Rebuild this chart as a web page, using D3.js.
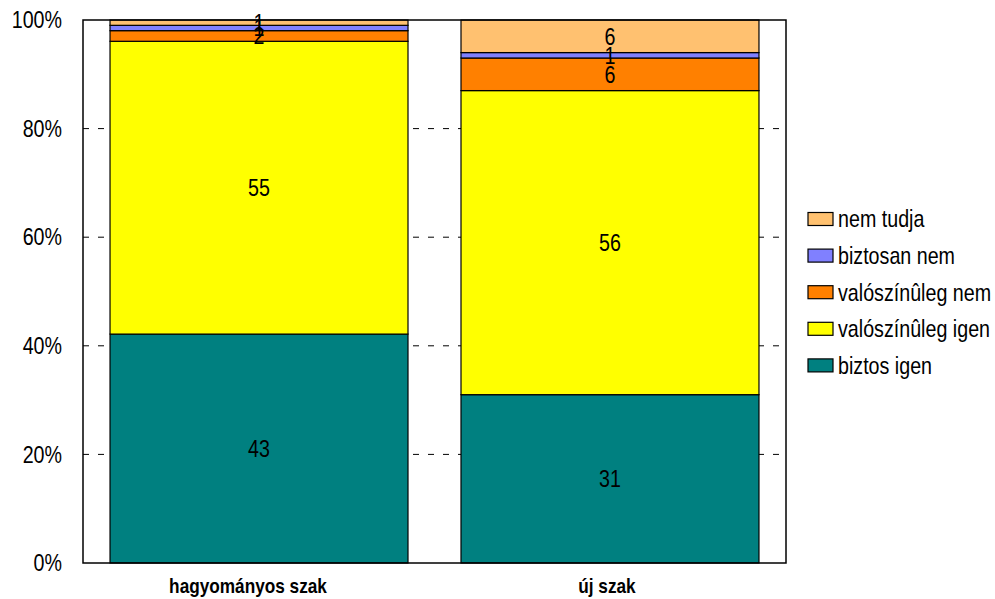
<!DOCTYPE html>
<html><head><meta charset="utf-8">
<script src="https://cdn.jsdelivr.net/npm/d3@7"></script>
<style>body{margin:0;background:#fff}svg{display:block}text{font-family:"Liberation Sans",Arial,sans-serif}</style>
</head><body>
<svg id="c" width="995" height="599"></svg>
<script>
const categories = ["hagyományos szak", "új szak"];
const seriesNames = ["biztos igen", "valószínûleg igen", "valószínûleg nem", "biztosan nem", "nem tudja"];
const biztosIgen = [43, 31];
const valoszinulegIgen = [55, 56];
const valoszinulegNem = [2, 6];
const biztosanNem = [1, 1];
const nemTudja = [1, 6];
const yTicks = [0, 0.2, 0.4, 0.6, 0.8, 1.0];
const colors = ["#008080", "#FFFF00", "#FF8000", "#8080FF", "#FFC170"];

const SX = 0.82; // horizontal condensation of text
const seriesValues = [biztosIgen, valoszinulegIgen, valoszinulegNem, biztosanNem, nemTudja];
const rows = categories.map((c, i) => {
  const o = {cat: c};
  const tot = d3.sum(seriesValues, s => s[i]);
  seriesNames.forEach((n, j) => o[n] = seriesValues[j][i] / tot);
  return o;
});
const stacked = d3.stack().keys(seriesNames)(rows);

const svg = d3.select("#c");
const L = 83, R = 786, T = 20, B = 563;
const x = d3.scaleBand().domain(categories).range([L, R]).paddingInner(0.151).paddingOuter(0.077);
const y = d3.scaleLinear().domain([0, 1]).range([B, T]);

// gridlines
svg.append("g").selectAll("line").data(yTicks.filter(t => t > 0 && t < 1)).join("line")
  .attr("x1", L).attr("x2", R).attr("y1", d => y(d)).attr("y2", d => y(d))
  .attr("stroke", "#000").attr("stroke-width", 1).attr("stroke-dasharray", "6,9");

// bars
stacked.forEach((s, j) => {
  svg.append("g").selectAll("rect").data(s).join("rect")
    .attr("x", d => x(d.data.cat)).attr("width", x.bandwidth())
    .attr("y", d => y(d[1])).attr("height", d => y(d[0]) - y(d[1]))
    .attr("fill", colors[j]).attr("stroke", "#000").attr("stroke-width", 1.2);
});
// labels
stacked.forEach((s, j) => {
  svg.append("g").selectAll("text").data(s).join("text")
    .attr("transform", d => `translate(${x(d.data.cat) + x.bandwidth() / 2},${(y(d[0]) + y(d[1])) / 2}) scale(${SX},1)`)
    .attr("dy", "0.35em").attr("text-anchor", "middle")
    .attr("font-size", 24).attr("fill", "#000")
    .text((d, i) => seriesValues[j][i]);
});

// frame
svg.append("rect").attr("x", L).attr("y", T).attr("width", R - L).attr("height", B - T)
  .attr("fill", "none").attr("stroke", "#000").attr("stroke-width", 1.5);

// y axis labels
const yAxis = d3.axisLeft(y).tickValues(yTicks).tickFormat(d3.format(".0%")).tickSize(0).tickPadding(21);
const ya = svg.append("g").attr("transform", `translate(${L},0)`).call(yAxis);
ya.select(".domain").remove();
ya.selectAll("text").attr("font-size", 24).attr("font-family", "'Liberation Sans', Arial, sans-serif").attr("fill", "#000")
  .attr("x", -21 / SX).attr("transform", `scale(${SX},1)`);

// x axis labels
const xShift = [-11, -3];
const xAxis = d3.axisBottom(x).tickSize(0).tickPadding(15);
const xa = svg.append("g").attr("transform", `translate(0,${B})`).call(xAxis);
xa.select(".domain").remove();
xa.selectAll("text").attr("font-size", 21).attr("font-weight", "bold").attr("font-family", "'Liberation Sans', Arial, sans-serif").attr("fill", "#000")
  .attr("transform", (d, i) => `translate(${xShift[i]},0) scale(${SX},1)`);

// legend
const legendOrder = seriesNames.map((n, j) => ({n, c: colors[j]})).reverse();
const lg = svg.append("g").selectAll("g").data(legendOrder).join("g")
  .attr("transform", (d, i) => `translate(808,${219 + i * 36.6})`);
lg.append("rect").attr("x", 0).attr("y", -6.5).attr("width", 25).attr("height", 13)
  .attr("fill", d => d.c).attr("stroke", "#000").attr("stroke-width", 1.2);
lg.append("text").attr("transform", `translate(30,0) scale(${SX},1)`).attr("dy", "0.35em").attr("font-size", 24).attr("fill", "#000").text(d => d.n);
</script>
</body></html>
